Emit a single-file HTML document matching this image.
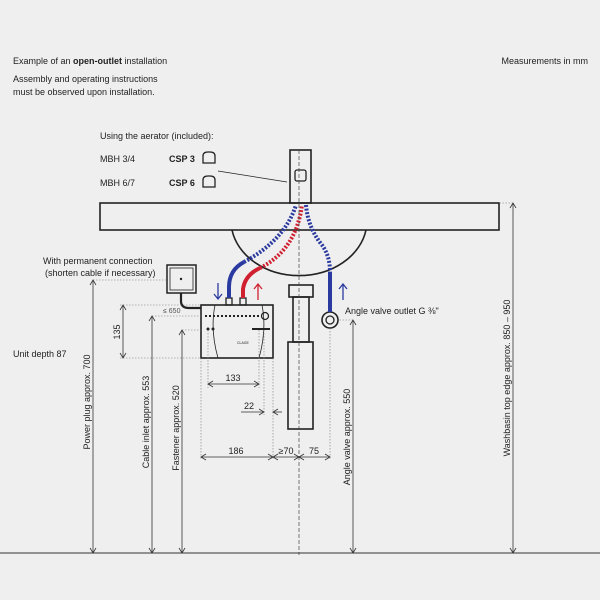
<!DOCTYPE html><html><head><style>body{margin:0;background:#efefef}svg{display:block}text{font-family:"Liberation Sans",sans-serif;font-size:9px;fill:#222}</style></head><body>
<svg width="600" height="600" viewBox="0 0 600 600">
<rect width="600" height="600" fill="#efefef"/>
<text x="13" y="64">Example of an <tspan font-weight="bold">open-outlet</tspan> installation</text>
<text x="588" y="64" text-anchor="end">Measurements in mm</text>
<text x="13" y="82">Assembly and operating instructions</text>
<text x="13" y="95">must be observed upon installation.</text>
<text x="100" y="139">Using the aerator (included):</text>
<text x="100" y="162">MBH 3/4</text><text x="169" y="162" font-weight="bold">CSP 3</text>
<text x="100" y="186">MBH 6/7</text><text x="169" y="186" font-weight="bold">CSP 6</text>
<g fill="none" stroke="#222" stroke-width="1.3">
<path d="M203,163 v-7 q0,-4 5,-4 h2 q5,0 5,4 v7 z"/><path d="M203,187 v-7 q0,-4 5,-4 h2 q5,0 5,4 v7 z"/>
<line x1="218" y1="171" x2="287" y2="182" stroke-width="0.8"/>
<rect x="290" y="150" width="21" height="53" stroke-width="1.6"/>
<rect x="295" y="170" width="11" height="11" rx="2"/>
<rect x="100" y="203" width="399" height="27" stroke-width="1.6"/>
<path d="M232,230 A68,55 0 0 0 366,230" stroke-width="1.6"/>
<rect x="289" y="285" width="24" height="12" stroke-width="1.6"/>
<rect x="293" y="297" width="16" height="45" stroke-width="1.6"/>
<rect x="288" y="342" width="25" height="87" stroke-width="1.6"/>
<rect x="167" y="265" width="29" height="28" stroke-width="1.5"/>
<rect x="170" y="268" width="23" height="22" stroke-width="0.8"/>
<path d="M181,293 v8 q0,7 8,7 h12" stroke-width="2.2"/>
<rect x="201" y="305" width="72" height="53" stroke-width="1.6"/>
<path d="M215,305 q-5,25 3,53 M262,305 q5,25 -3,53" stroke-width="0.8"/>
<line x1="205" y1="316" x2="262" y2="316" stroke-dasharray="2,2" stroke-width="2"/>
<circle cx="265" cy="316" r="3.5"/><line x1="252" y1="329" x2="270" y2="329" stroke-width="2"/>
<rect x="226" y="298" width="6" height="7"/><rect x="240" y="298" width="6" height="7"/>
<circle cx="330" cy="320" r="8" stroke-width="1.6"/><circle cx="330" cy="320" r="4"/>
</g>
<circle cx="181" cy="279" r="1.2" fill="#222"/>
<circle cx="208" cy="329" r="1.5" fill="#222"/><circle cx="213" cy="329" r="1.5" fill="#222"/>
<text x="237" y="344" style="font-size:3.5px">CLAGE</text>
<g fill="none" stroke-width="4">
<path d="M229,298 V287 Q229,270 244,262" stroke="#2b3aa0"/>
<path d="M244,262 Q285,240 296,205" stroke="#2b3aa0" stroke-dasharray="2,1.6"/>
<path d="M243,298 V289 Q245,275 260,268" stroke="#d02030"/>
<path d="M260,268 Q296,250 302,205" stroke="#d02030" stroke-dasharray="2,1.6"/>
<path d="M306,205 Q308,228 322,245 Q330,256 330,272" stroke="#2b3aa0" stroke-dasharray="2,1.6"/>
<path d="M330,272 V312" stroke="#2b3aa0"/>
</g>
<g fill="none" stroke-width="1.3">
<path d="M218,283 v16 M214,294 l4,5 4,-5" stroke="#2b3aa0"/>
<path d="M258,300 v-16 M254,289 l4,-5 4,5" stroke="#d02030"/>
<path d="M343,300 v-16 M339,289 l4,-5 4,5" stroke="#2b3aa0"/>
</g>
<g stroke="#444" stroke-width="0.7" fill="none">
<line x1="299" y1="150" x2="299" y2="555" stroke-dasharray="4,2"/>
<line x1="0" y1="553" x2="600" y2="553" stroke="#333" stroke-width="1"/>
</g>
<g stroke="#777" stroke-width="0.6" stroke-dasharray="1.5,1.5" fill="none">
<line x1="93" y1="280" x2="167" y2="280"/>
<line x1="120" y1="305" x2="201" y2="305"/><line x1="120" y1="358" x2="201" y2="358"/>
<line x1="152" y1="316" x2="201" y2="316"/><line x1="182" y1="330" x2="201" y2="330"/>
<line x1="353" y1="320" x2="338" y2="320"/><line x1="513" y1="203" x2="499" y2="203"/>
<line x1="201" y1="358" x2="201" y2="460"/><line x1="273" y1="358" x2="273" y2="460"/>
<line x1="208" y1="330" x2="208" y2="388"/><line x1="259" y1="330" x2="259" y2="388"/>
<line x1="264" y1="330" x2="264" y2="415"/><line x1="330" y1="328" x2="330" y2="460"/>
</g>
<g stroke="#333" stroke-width="0.8" fill="none">
<line x1="93" y1="280" x2="93" y2="553"/><path d="M90,285 l3,-5 3,5 M90,548 l3,5 3,-5"/>
<line x1="123" y1="305" x2="123" y2="358"/><path d="M120,310 l3,-5 3,5 M120,353 l3,5 3,-5"/>
<line x1="152" y1="316" x2="152" y2="553"/><path d="M149,321 l3,-5 3,5 M149,548 l3,5 3,-5"/>
<line x1="182" y1="330" x2="182" y2="553"/><path d="M179,335 l3,-5 3,5 M179,548 l3,5 3,-5"/>
<line x1="353" y1="320" x2="353" y2="553"/><path d="M350,325 l3,-5 3,5 M350,548 l3,5 3,-5"/>
<line x1="513" y1="203" x2="513" y2="553"/><path d="M510,208 l3,-5 3,5 M510,548 l3,5 3,-5"/>
<line x1="208" y1="384" x2="259" y2="384"/><path d="M213,381 l-5,3 5,3 M254,381 l5,3 -5,3"/>
<line x1="241" y1="412" x2="264" y2="412"/><path d="M259,409 l5,3 -5,3 M278,409 l-5,3 5,3"/><line x1="273" y1="412" x2="282" y2="412"/>
<line x1="201" y1="457" x2="330" y2="457"/>
<path d="M206,454 l-5,3 5,3 M268,454 l5,3 -5,3 M278,454 l-5,3 5,3 M294,454 l5,3 -5,3 M304,454 l-5,3 5,3 M325,454 l5,3 -5,3"/>
</g>
<text x="43" y="264">With permanent connection</text>
<text x="45" y="276">(shorten cable if necessary)</text>
<text x="163" y="313" style="font-size:7px;fill:#555">≤ 650</text>
<text x="13" y="357">Unit depth 87</text>
<text x="345" y="314">Angle valve outlet G ⅜"</text>
<text x="233" y="381" text-anchor="middle">133</text>
<text x="249" y="409" text-anchor="middle">22</text>
<text x="236" y="454" text-anchor="middle">186</text>
<text x="286" y="454" text-anchor="middle">≥70</text>
<text x="314" y="454" text-anchor="middle">75</text>
<text transform="translate(120,332) rotate(-90)" text-anchor="middle">135</text>
<text transform="translate(90,402) rotate(-90)" text-anchor="middle">Power plug approx. 700</text>
<text transform="translate(149,422) rotate(-90)" text-anchor="middle">Cable inlet approx. 553</text>
<text transform="translate(179,428) rotate(-90)" text-anchor="middle">Fastener approx. 520</text>
<text transform="translate(350,437) rotate(-90)" text-anchor="middle">Angle valve approx. 550</text>
<text transform="translate(510,378) rotate(-90)" text-anchor="middle">Washbasin top edge approx. 850 – 950</text>
</svg></body></html>
